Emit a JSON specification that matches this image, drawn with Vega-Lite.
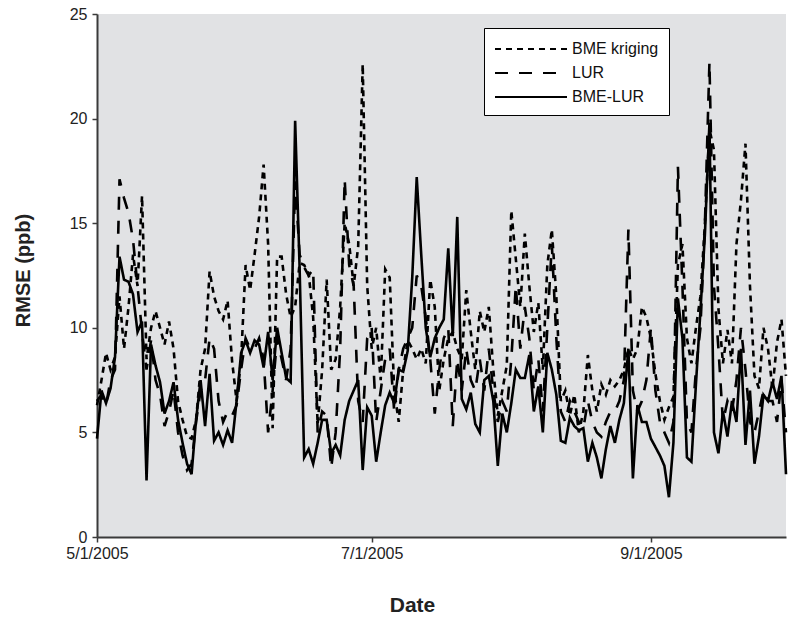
{
  "$schema": "https://vega.github.io/schema/vega-lite/v6.json",
  "width": 689,
  "height": 523,
  "autosize": {"type": "none"},
  "padding": {"left": 97, "top": 14, "right": 14, "bottom": 80},
  "background": "white",
  "config": {
    "view": {"fill": "#e1e2e4", "stroke": null},
    "font": "Liberation Sans"
  },
  "data": {
    "values": [
      {"date": "2005-05-01", "BME kriging": 6.3, "LUR": 6.5, "BME-LUR": 4.7},
      {"date": "2005-05-02", "BME kriging": 7.5, "LUR": 6.8, "BME-LUR": 7.0},
      {"date": "2005-05-03", "BME kriging": 8.8, "LUR": 6.3, "BME-LUR": 6.4},
      {"date": "2005-05-04", "BME kriging": 8.0, "LUR": 7.5, "BME-LUR": 7.1},
      {"date": "2005-05-05", "BME kriging": 8.6, "LUR": 8.0, "BME-LUR": 8.6},
      {"date": "2005-05-06", "BME kriging": 11.5, "LUR": 17.1, "BME-LUR": 13.4},
      {"date": "2005-05-07", "BME kriging": 9.0, "LUR": 16.2, "BME-LUR": 12.3},
      {"date": "2005-05-08", "BME kriging": 11.0, "LUR": 15.5, "BME-LUR": 12.2},
      {"date": "2005-05-09", "BME kriging": 13.5, "LUR": 14.2, "BME-LUR": 11.6},
      {"date": "2005-05-10", "BME kriging": 12.0, "LUR": 12.0, "BME-LUR": 9.8},
      {"date": "2005-05-11", "BME kriging": 16.3, "LUR": 9.8, "BME-LUR": 10.3},
      {"date": "2005-05-12", "BME kriging": 8.5, "LUR": 8.0, "BME-LUR": 2.7},
      {"date": "2005-05-13", "BME kriging": 10.0, "LUR": 9.4, "BME-LUR": 9.2},
      {"date": "2005-05-14", "BME kriging": 10.8, "LUR": 7.5, "BME-LUR": 8.2},
      {"date": "2005-05-15", "BME kriging": 10.0, "LUR": 6.8, "BME-LUR": 7.4},
      {"date": "2005-05-16", "BME kriging": 9.2, "LUR": 5.3, "BME-LUR": 5.9},
      {"date": "2005-05-17", "BME kriging": 10.3, "LUR": 6.0, "BME-LUR": 6.5},
      {"date": "2005-05-18", "BME kriging": 9.0, "LUR": 7.0, "BME-LUR": 7.4},
      {"date": "2005-05-19", "BME kriging": 6.5, "LUR": 5.0, "BME-LUR": 5.6},
      {"date": "2005-05-20", "BME kriging": 5.6, "LUR": 3.9, "BME-LUR": 4.5},
      {"date": "2005-05-21", "BME kriging": 4.8, "LUR": 3.2, "BME-LUR": 3.5},
      {"date": "2005-05-22", "BME kriging": 4.7, "LUR": 3.5, "BME-LUR": 3.0},
      {"date": "2005-05-23", "BME kriging": 5.6, "LUR": 5.5, "BME-LUR": 5.6},
      {"date": "2005-05-24", "BME kriging": 8.0, "LUR": 7.0, "BME-LUR": 7.5},
      {"date": "2005-05-25", "BME kriging": 9.0, "LUR": 7.5, "BME-LUR": 5.3},
      {"date": "2005-05-26", "BME kriging": 12.7, "LUR": 9.5, "BME-LUR": 7.8},
      {"date": "2005-05-27", "BME kriging": 11.5, "LUR": 9.0, "BME-LUR": 4.6},
      {"date": "2005-05-28", "BME kriging": 10.8, "LUR": 6.5, "BME-LUR": 5.0},
      {"date": "2005-05-29", "BME kriging": 10.4, "LUR": 5.5, "BME-LUR": 4.4},
      {"date": "2005-05-30", "BME kriging": 11.3, "LUR": 6.0, "BME-LUR": 5.1},
      {"date": "2005-05-31", "BME kriging": 8.4, "LUR": 5.8, "BME-LUR": 4.5},
      {"date": "2005-06-01", "BME kriging": 6.5, "LUR": 6.3, "BME-LUR": 6.5},
      {"date": "2005-06-02", "BME kriging": 8.5, "LUR": 8.0, "BME-LUR": 8.8},
      {"date": "2005-06-03", "BME kriging": 13.0, "LUR": 9.5, "BME-LUR": 9.4},
      {"date": "2005-06-04", "BME kriging": 11.8, "LUR": 9.0, "BME-LUR": 8.8},
      {"date": "2005-06-05", "BME kriging": 13.5, "LUR": 9.0, "BME-LUR": 9.4},
      {"date": "2005-06-06", "BME kriging": 15.3, "LUR": 9.5, "BME-LUR": 9.2},
      {"date": "2005-06-07", "BME kriging": 17.8, "LUR": 8.5, "BME-LUR": 8.1},
      {"date": "2005-06-08", "BME kriging": 14.0, "LUR": 5.0, "BME-LUR": 9.8},
      {"date": "2005-06-09", "BME kriging": 5.2, "LUR": 7.0, "BME-LUR": 7.5},
      {"date": "2005-06-10", "BME kriging": 13.4, "LUR": 9.5, "BME-LUR": 10.0},
      {"date": "2005-06-11", "BME kriging": 13.4, "LUR": 8.5, "BME-LUR": 8.8},
      {"date": "2005-06-12", "BME kriging": 11.6, "LUR": 7.5, "BME-LUR": 7.6},
      {"date": "2005-06-13", "BME kriging": 10.5, "LUR": 9.0, "BME-LUR": 7.4},
      {"date": "2005-06-14", "BME kriging": 11.0, "LUR": 17.0, "BME-LUR": 19.9},
      {"date": "2005-06-15", "BME kriging": 13.1, "LUR": 13.5, "BME-LUR": 12.8},
      {"date": "2005-06-16", "BME kriging": 13.0, "LUR": 12.9, "BME-LUR": 3.8},
      {"date": "2005-06-17", "BME kriging": 12.6, "LUR": 12.5, "BME-LUR": 4.2},
      {"date": "2005-06-18", "BME kriging": 10.5, "LUR": 12.8, "BME-LUR": 3.5},
      {"date": "2005-06-19", "BME kriging": 5.4, "LUR": 5.0, "BME-LUR": 4.5},
      {"date": "2005-06-20", "BME kriging": 8.0, "LUR": 6.0, "BME-LUR": 5.6},
      {"date": "2005-06-21", "BME kriging": 12.3, "LUR": 5.8, "BME-LUR": 5.6},
      {"date": "2005-06-22", "BME kriging": 8.0, "LUR": 3.3, "BME-LUR": 4.0},
      {"date": "2005-06-23", "BME kriging": 8.5, "LUR": 5.0, "BME-LUR": 4.4},
      {"date": "2005-06-24", "BME kriging": 11.0, "LUR": 9.0, "BME-LUR": 3.9},
      {"date": "2005-06-25", "BME kriging": 15.0, "LUR": 17.1, "BME-LUR": 5.6},
      {"date": "2005-06-26", "BME kriging": 14.0, "LUR": 13.0, "BME-LUR": 6.5},
      {"date": "2005-06-27", "BME kriging": 12.0, "LUR": 12.0, "BME-LUR": 7.0},
      {"date": "2005-06-28", "BME kriging": 13.9, "LUR": 6.5, "BME-LUR": 7.5},
      {"date": "2005-06-29", "BME kriging": 22.6, "LUR": 5.5, "BME-LUR": 3.2},
      {"date": "2005-06-30", "BME kriging": 12.0, "LUR": 9.5, "BME-LUR": 6.2},
      {"date": "2005-07-01", "BME kriging": 9.0, "LUR": 10.0, "BME-LUR": 5.8},
      {"date": "2005-07-02", "BME kriging": 10.0, "LUR": 5.5, "BME-LUR": 3.6},
      {"date": "2005-07-03", "BME kriging": 7.5, "LUR": 7.0, "BME-LUR": 5.0},
      {"date": "2005-07-04", "BME kriging": 12.8, "LUR": 8.5, "BME-LUR": 6.3},
      {"date": "2005-07-05", "BME kriging": 12.4, "LUR": 9.0, "BME-LUR": 6.9},
      {"date": "2005-07-06", "BME kriging": 7.0, "LUR": 6.0, "BME-LUR": 6.4},
      {"date": "2005-07-07", "BME kriging": 5.5, "LUR": 8.0, "BME-LUR": 8.0},
      {"date": "2005-07-08", "BME kriging": 8.0, "LUR": 9.0, "BME-LUR": 7.9},
      {"date": "2005-07-09", "BME kriging": 9.4, "LUR": 9.5, "BME-LUR": 8.9},
      {"date": "2005-07-10", "BME kriging": 9.0, "LUR": 10.0, "BME-LUR": 12.4},
      {"date": "2005-07-11", "BME kriging": 8.5, "LUR": 12.5, "BME-LUR": 17.2},
      {"date": "2005-07-12", "BME kriging": 9.0, "LUR": 12.0, "BME-LUR": 13.5},
      {"date": "2005-07-13", "BME kriging": 8.3, "LUR": 10.5, "BME-LUR": 10.0},
      {"date": "2005-07-14", "BME kriging": 12.3, "LUR": 8.5, "BME-LUR": 8.6},
      {"date": "2005-07-15", "BME kriging": 11.0, "LUR": 5.9, "BME-LUR": 9.5},
      {"date": "2005-07-16", "BME kriging": 7.0, "LUR": 8.0, "BME-LUR": 10.0},
      {"date": "2005-07-17", "BME kriging": 8.5, "LUR": 9.5, "BME-LUR": 10.4},
      {"date": "2005-07-18", "BME kriging": 9.5, "LUR": 10.0, "BME-LUR": 13.8},
      {"date": "2005-07-19", "BME kriging": 9.8, "LUR": 5.3, "BME-LUR": 9.6},
      {"date": "2005-07-20", "BME kriging": 9.0, "LUR": 8.5, "BME-LUR": 15.3},
      {"date": "2005-07-21", "BME kriging": 8.5, "LUR": 7.0, "BME-LUR": 6.6},
      {"date": "2005-07-22", "BME kriging": 11.8, "LUR": 9.0, "BME-LUR": 6.1},
      {"date": "2005-07-23", "BME kriging": 9.8, "LUR": 7.5, "BME-LUR": 6.9},
      {"date": "2005-07-24", "BME kriging": 8.0, "LUR": 7.0, "BME-LUR": 5.4},
      {"date": "2005-07-25", "BME kriging": 10.8, "LUR": 8.5, "BME-LUR": 5.0},
      {"date": "2005-07-26", "BME kriging": 9.8, "LUR": 7.0, "BME-LUR": 7.5},
      {"date": "2005-07-27", "BME kriging": 11.0, "LUR": 9.0, "BME-LUR": 7.7},
      {"date": "2005-07-28", "BME kriging": 8.0, "LUR": 7.0, "BME-LUR": 6.5},
      {"date": "2005-07-29", "BME kriging": 5.8, "LUR": 5.5, "BME-LUR": 3.4},
      {"date": "2005-07-30", "BME kriging": 7.0, "LUR": 6.5, "BME-LUR": 5.9},
      {"date": "2005-07-31", "BME kriging": 8.2, "LUR": 6.0, "BME-LUR": 5.0},
      {"date": "2005-08-01", "BME kriging": 15.6, "LUR": 8.5, "BME-LUR": 6.4},
      {"date": "2005-08-02", "BME kriging": 13.3, "LUR": 12.0, "BME-LUR": 8.0},
      {"date": "2005-08-03", "BME kriging": 11.0, "LUR": 9.0, "BME-LUR": 7.6},
      {"date": "2005-08-04", "BME kriging": 14.5, "LUR": 11.0, "BME-LUR": 7.6},
      {"date": "2005-08-05", "BME kriging": 12.0, "LUR": 9.5, "BME-LUR": 8.7},
      {"date": "2005-08-06", "BME kriging": 9.8, "LUR": 7.0, "BME-LUR": 6.0},
      {"date": "2005-08-07", "BME kriging": 11.2, "LUR": 8.5, "BME-LUR": 7.2},
      {"date": "2005-08-08", "BME kriging": 8.0, "LUR": 6.0, "BME-LUR": 5.0},
      {"date": "2005-08-09", "BME kriging": 13.0, "LUR": 10.0, "BME-LUR": 8.8},
      {"date": "2005-08-10", "BME kriging": 14.7, "LUR": 14.0, "BME-LUR": 8.0},
      {"date": "2005-08-11", "BME kriging": 11.5, "LUR": 9.5, "BME-LUR": 6.8},
      {"date": "2005-08-12", "BME kriging": 6.5, "LUR": 6.0, "BME-LUR": 4.6},
      {"date": "2005-08-13", "BME kriging": 7.0, "LUR": 5.5, "BME-LUR": 4.5},
      {"date": "2005-08-14", "BME kriging": 5.8, "LUR": 6.5, "BME-LUR": 5.7},
      {"date": "2005-08-15", "BME kriging": 6.8, "LUR": 6.0, "BME-LUR": 5.3},
      {"date": "2005-08-16", "BME kriging": 5.0, "LUR": 5.5, "BME-LUR": 5.1},
      {"date": "2005-08-17", "BME kriging": 6.0, "LUR": 5.2, "BME-LUR": 5.2},
      {"date": "2005-08-18", "BME kriging": 8.7, "LUR": 6.5, "BME-LUR": 3.6},
      {"date": "2005-08-19", "BME kriging": 7.0, "LUR": 5.5, "BME-LUR": 4.5},
      {"date": "2005-08-20", "BME kriging": 6.0, "LUR": 5.0, "BME-LUR": 3.8},
      {"date": "2005-08-21", "BME kriging": 7.3, "LUR": 4.8, "BME-LUR": 2.8},
      {"date": "2005-08-22", "BME kriging": 6.8, "LUR": 5.5, "BME-LUR": 4.2},
      {"date": "2005-08-23", "BME kriging": 7.5, "LUR": 6.0, "BME-LUR": 5.3},
      {"date": "2005-08-24", "BME kriging": 7.2, "LUR": 6.0, "BME-LUR": 4.5},
      {"date": "2005-08-25", "BME kriging": 7.5, "LUR": 6.5, "BME-LUR": 5.6},
      {"date": "2005-08-26", "BME kriging": 8.0, "LUR": 7.5, "BME-LUR": 6.4},
      {"date": "2005-08-27", "BME kriging": 9.0, "LUR": 14.7, "BME-LUR": 9.0},
      {"date": "2005-08-28", "BME kriging": 8.5, "LUR": 7.0, "BME-LUR": 2.8},
      {"date": "2005-08-29", "BME kriging": 9.0, "LUR": 6.0, "BME-LUR": 6.3},
      {"date": "2005-08-30", "BME kriging": 11.0, "LUR": 6.5, "BME-LUR": 5.5},
      {"date": "2005-08-31", "BME kriging": 10.5, "LUR": 7.5, "BME-LUR": 5.5},
      {"date": "2005-09-01", "BME kriging": 9.5, "LUR": 10.0, "BME-LUR": 4.7},
      {"date": "2005-09-02", "BME kriging": 7.8, "LUR": 7.0, "BME-LUR": 4.3},
      {"date": "2005-09-03", "BME kriging": 6.5, "LUR": 5.5, "BME-LUR": 3.9},
      {"date": "2005-09-04", "BME kriging": 5.6, "LUR": 5.0, "BME-LUR": 3.4},
      {"date": "2005-09-05", "BME kriging": 6.2, "LUR": 4.5, "BME-LUR": 1.9},
      {"date": "2005-09-06", "BME kriging": 6.7, "LUR": 5.5, "BME-LUR": 4.5},
      {"date": "2005-09-07", "BME kriging": 13.0, "LUR": 17.7, "BME-LUR": 11.4},
      {"date": "2005-09-08", "BME kriging": 14.0, "LUR": 12.0, "BME-LUR": 9.5},
      {"date": "2005-09-09", "BME kriging": 9.5, "LUR": 5.5, "BME-LUR": 3.8},
      {"date": "2005-09-10", "BME kriging": 8.3, "LUR": 5.0, "BME-LUR": 3.6},
      {"date": "2005-09-11", "BME kriging": 10.0, "LUR": 8.0, "BME-LUR": 7.3},
      {"date": "2005-09-12", "BME kriging": 11.5, "LUR": 10.0, "BME-LUR": 10.8},
      {"date": "2005-09-13", "BME kriging": 15.0, "LUR": 15.0, "BME-LUR": 14.5},
      {"date": "2005-09-14", "BME kriging": 19.5, "LUR": 22.7, "BME-LUR": 19.8},
      {"date": "2005-09-15", "BME kriging": 18.5, "LUR": 12.0, "BME-LUR": 5.0},
      {"date": "2005-09-16", "BME kriging": 10.9, "LUR": 9.0, "BME-LUR": 4.0},
      {"date": "2005-09-17", "BME kriging": 8.3, "LUR": 5.5, "BME-LUR": 6.0},
      {"date": "2005-09-18", "BME kriging": 9.9, "LUR": 6.5, "BME-LUR": 4.8},
      {"date": "2005-09-19", "BME kriging": 8.3, "LUR": 6.0, "BME-LUR": 6.5},
      {"date": "2005-09-20", "BME kriging": 14.0, "LUR": 7.5, "BME-LUR": 5.5},
      {"date": "2005-09-21", "BME kriging": 16.1, "LUR": 10.0, "BME-LUR": 9.0},
      {"date": "2005-09-22", "BME kriging": 18.8, "LUR": 8.0, "BME-LUR": 4.4},
      {"date": "2005-09-23", "BME kriging": 12.0, "LUR": 5.5, "BME-LUR": 7.0},
      {"date": "2005-09-24", "BME kriging": 7.7, "LUR": 5.0, "BME-LUR": 3.5},
      {"date": "2005-09-25", "BME kriging": 7.1, "LUR": 6.0, "BME-LUR": 4.8},
      {"date": "2005-09-26", "BME kriging": 10.0, "LUR": 7.0, "BME-LUR": 6.8},
      {"date": "2005-09-27", "BME kriging": 9.0, "LUR": 6.5, "BME-LUR": 6.5},
      {"date": "2005-09-28", "BME kriging": 7.1, "LUR": 6.5, "BME-LUR": 7.4},
      {"date": "2005-09-29", "BME kriging": 9.3, "LUR": 5.5, "BME-LUR": 6.6},
      {"date": "2005-09-30", "BME kriging": 10.4, "LUR": 7.5, "BME-LUR": 7.7},
      {"date": "2005-10-01", "BME kriging": 7.7, "LUR": 5.0, "BME-LUR": 3.0}
    ]
  },
  "transform": [
    {"fold": ["BME kriging", "LUR", "BME-LUR"], "as": ["series", "value"]}
  ],
  "mark": {"type": "line", "strokeWidth": 2.6, "color": "black", "strokeCap": "butt", "strokeJoin": "miter"},
  "encoding": {
    "x": {
      "field": "date",
      "type": "temporal",
      "scale": {
        "type": "utc",
        "domain": [
          {"year": 2005, "month": 5, "date": 1, "utc": true},
          {"year": 2005, "month": 10, "date": 1, "utc": true}
        ]
      },
      "axis": {
        "title": "Date",
        "values": [
          {"year": 2005, "month": 5, "date": 1, "utc": true},
          {"year": 2005, "month": 7, "date": 1, "utc": true},
          {"year": 2005, "month": 9, "date": 1, "utc": true}
        ],
        "labelExpr": "utcFormat(datum.value, '%-m/%-d/%Y')",
        "grid": false,
        "labelFlush": false,
        "labelFontSize": 16,
        "labelColor": "#222",
        "labelPadding": 3,
        "domainColor": "#3a3a3a",
        "domainWidth": 2,
        "tickColor": "#3a3a3a",
        "tickWidth": 1.5,
        "tickSize": 5,
        "titleFontSize": 21,
        "titleFontWeight": "bold",
        "titleColor": "#222",
        "titleAlign": "center",
        "titleBaseline": "alphabetic",
        "titleX": 315,
        "titleY": 74
      }
    },
    "y": {
      "field": "value",
      "type": "quantitative",
      "scale": {"domain": [0, 25], "nice": false},
      "axis": {
        "title": "RMSE (ppb)",
        "values": [0, 5, 10, 15, 20, 25],
        "grid": false,
        "labelFontSize": 16,
        "labelColor": "#222",
        "labelPadding": 5,
        "domainColor": "#3a3a3a",
        "domainWidth": 2,
        "tickColor": "#3a3a3a",
        "tickWidth": 1.5,
        "tickSize": 5,
        "titleFontSize": 20,
        "titleFontWeight": "bold",
        "titleColor": "#222",
        "titleAngle": -90,
        "titleAlign": "center",
        "titleBaseline": "middle",
        "titleX": -74,
        "titleY": 256
      }
    },
    "strokeDash": {
      "field": "series",
      "type": "nominal",
      "scale": {
        "domain": ["BME kriging", "LUR", "BME-LUR"],
        "range": [[6, 5], [13, 11], [1, 0]]
      },
      "legend": {
        "title": null,
        "orient": "none",
        "legendX": 387,
        "legendY": 14,
        "fillColor": "white",
        "strokeColor": "black",
        "padding": 10,
        "symbolType": "M-1,0H6.2",
        "symbolSize": 400,
        "symbolStrokeWidth": 2,
        "symbolStrokeColor": "black",
        "symbolFillColor": "transparent",
        "labelFontSize": 16,
        "labelColor": "#111",
        "labelOffset": 56,
        "rowPadding": 5
      }
    }
  }
}
